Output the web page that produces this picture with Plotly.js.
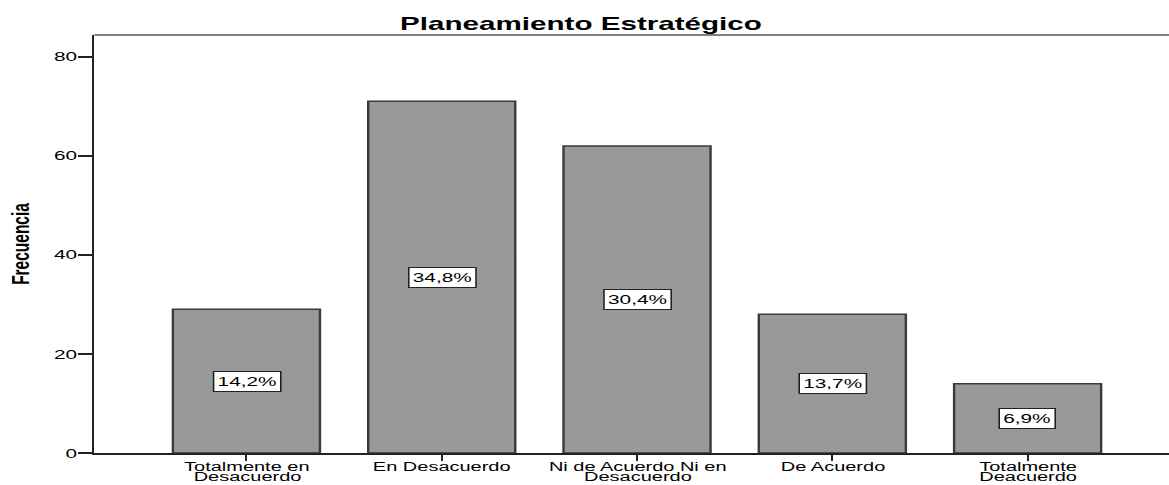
<!DOCTYPE html>
<html>
<head>
<meta charset="utf-8">
<script src="https://cdn.plot.ly/plotly-3.0.1.min.js"></script>
<style>
  html, body { margin: 0; padding: 0; background: #fff; overflow: hidden; }
  /* The chart is laid out narrow and widened, giving the broad lettering of the original export */
  #chart { width: 730.625px; height: 485px; transform: scaleX(1.6); transform-origin: 0 0; }
</style>
</head>
<body>
<div id="chart"></div>
<script>
// Categories of the Likert scale (line breaks mark wrapped labels)
const categories = [
  'Totalmente en<br>Desacuerdo',
  'En Desacuerdo',
  'Ni de Acuerdo Ni en<br>Desacuerdo',
  'De Acuerdo',
  'Totalmente<br>Deacuerdo'
];
// Frequency of answers per category
const frecuencia = [29, 71, 62, 28, 14];
// Share of answers per category
const porcentaje = ['14,2%', '34,8%', '30,4%', '13,7%', '6,9%'];
// Y axis ticks
const yTicks = [0, 20, 40, 60, 80];

const FONT = 'Liberation Sans, Arial, Helvetica, sans-serif';
const idx = categories.map((c, i) => i);

const trace = {
  type: 'bar',
  x: idx,
  y: frecuencia,
  width: 0.753,
  marker: { color: '#999999', line: { color: '#3a3a3a', width: 1.5 } },
  hoverinfo: 'skip'
};

const annotations = [];
// Percentage boxes in the middle of each bar
idx.forEach(i => {
  annotations.push({
    x: i, xref: 'x', y: frecuencia[i] / 2, yref: 'y',
    text: porcentaje[i], showarrow: false,
    font: { family: FONT, size: 13, color: '#000' },
    bgcolor: '#ffffff', bordercolor: '#222', borderwidth: 1, borderpad: 2,
    xanchor: 'center', yanchor: 'middle'
  });
});
// Category labels under the axis, one annotation per line for tight spacing
const LINE_SHIFTS = [-6.5, -17.3];
idx.forEach(i => {
  categories[i].split('<br>').forEach((line, k) => {
    annotations.push({
      x: i, xref: 'x', y: 0, yref: 'paper',
      yanchor: 'top', xanchor: 'center',
      yshift: LINE_SHIFTS[k],
      borderpad: 0, borderwidth: 0,
      text: line, showarrow: false,
      font: { family: FONT, size: 12.5, color: '#000' }
    });
  });
});

const layout = {
  width: 730.625,
  height: 485,
  margin: { l: 58.75, r: 0, t: 35, b: 32, pad: 0 },
  paper_bgcolor: '#fff',
  plot_bgcolor: '#fff',
  showlegend: false,
  title: {
    text: '<b>Planeamiento Estratégico</b>',
    font: { family: FONT, size: 18.5, color: '#000' },
    x: 0.497, xref: 'container', xanchor: 'center',
    y: 1 - 24 / 485, yref: 'container', yanchor: 'middle'
  },
  xaxis: {
    type: 'linear',
    range: [-0.7785, 4.727],
    tickvals: idx,
    showticklabels: false,
    ticks: 'outside', ticklen: 6, tickwidth: 1.25, tickcolor: '#222',
    showgrid: false, zeroline: false,
    showline: true, linecolor: '#222', linewidth: 1.5
  },
  yaxis: {
    range: [0, 84.4],
    tickvals: yTicks,
    ticktext: yTicks.map(String),
    ticks: 'outside', ticklen: 9, tickwidth: 1.5, tickcolor: '#222',
    ticklabelstandoff: -2,
    tickfont: { family: FONT, size: 13, color: '#000' },
    showgrid: false, zeroline: false,
    showline: true, linecolor: '#222', linewidth: 1.25,
    title: {
      text: '<b>Frecuencia</b>',
      font: { family: FONT, size: 15.5, color: '#000' },
      standoff: 11
    }
  },
  shapes: [{
    type: 'line', xref: 'paper', yref: 'paper',
    x0: 0, x1: 1, y0: 1, y1: 1,
    line: { color: '#808080', width: 2 }
  }],
  annotations: annotations
};

Plotly.newPlot('chart', [trace], layout, { displayModeBar: false, staticPlot: true });
</script>
</body>
</html>
